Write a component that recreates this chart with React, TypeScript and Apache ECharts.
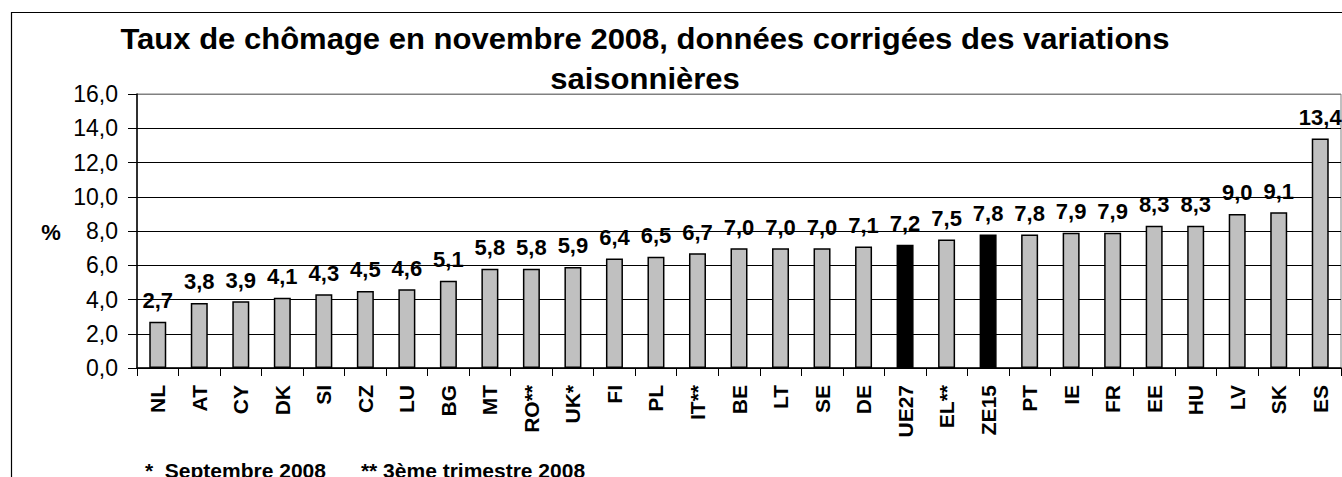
import React, { useEffect, useRef } from "react";
import * as echarts from "echarts";

const categories = ["NL","AT","CY","DK","SI","CZ","LU","BG","MT","RO**","UK*","FI","PL","IT**","BE","LT","SE","DE","UE27","EL**","ZE15","PT","IE","FR","EE","HU","LV","SK","ES"];
const values = [2.7,3.8,3.9,4.1,4.3,4.5,4.6,5.1,5.8,5.8,5.9,6.4,6.5,6.7,7.0,7.0,7.0,7.1,7.2,7.5,7.8,7.8,7.9,7.9,8.3,8.3,9.0,9.1,13.4];
const highlighted = ["UE27", "ZE15"];
const titleText = "Taux de chômage en novembre 2008, données corrigées des variations\nsaisonnières";
const footnote = "*  Septembre 2008      ** 3ème trimestre 2008";
const yUnit = "%";

const FONT = "'Liberation Sans', Arial, sans-serif";
const fmt = (v: number) => v.toFixed(1).replace(".", ",");

export default function App() {
  const ref = useRef<HTMLDivElement>(null);
  useEffect(() => {
    document.body.style.margin = "0";
    const chart = echarts.init(ref.current!, null, { renderer: "svg" });
    chart.setOption({
      animation: false,
      backgroundColor: "#fff",
      textStyle: { fontFamily: FONT },
      grid: {
        left: 137, right: 1, top: 94, bottom: 109,
        show: true, borderColor: "#808080", borderWidth: 1, backgroundColor: "transparent",
      },
      xAxis: {
        type: "category",
        data: categories,
        axisLine: { lineStyle: { color: "#000", width: 1.5 } },
        axisTick: { show: true, length: 8, lineStyle: { color: "#000" } },
        axisLabel: {
          rotate: 90, interval: 0, margin: 17,
          fontFamily: FONT, fontSize: 21, fontWeight: "bold", color: "#000",
        },
      },
      yAxis: {
        type: "value", min: 0, max: 16, interval: 2,
        axisLine: { show: true, lineStyle: { color: "#000", width: 1.5 } },
        axisTick: { show: true, length: 9, lineStyle: { color: "#000" } },
        axisLabel: {
          formatter: (v: number) => fmt(v), margin: 19,
          fontFamily: FONT, fontSize: 23, color: "#000",
        },
        splitLine: {
          show: true,
          lineStyle: { color: ["#000","#000","#000","#000","#000","#000","#000","#000","#808080"], width: 1 },
        },
      },
      series: [{
        type: "bar",
        barWidth: 17,
        data: values.map((v, i) => ({
          value: v,
          itemStyle: { color: highlighted.includes(categories[i]) ? "#000" : "#C0C0C0" },
        })),
        itemStyle: { borderColor: "#000", borderWidth: 1.5 },
        label: {
          show: true, position: "top", distance: 10,
          formatter: (p: any) => fmt(p.value),
          fontFamily: FONT, fontSize: 22, fontWeight: "bold", color: "#000",
        },
      }],
      graphic: [
        { type: "rect", shape: { x: 11.5, y: 12.5, width: 1500, height: 800 },
          style: { fill: "none", stroke: "#000", lineWidth: 1.2 }, silent: true, z: -1 },
        { type: "text", x: 645, y: 19, scaleX: 1.07,
          style: { text: titleText, fontFamily: FONT, fontSize: 29, fontWeight: "bold",
            fill: "#000", align: "center", verticalAlign: "top", lineHeight: 40 } },
        { type: "text", x: 51, y: 232,
          style: { text: yUnit, fontFamily: FONT, fontSize: 22, fontWeight: "bold",
            fill: "#000", align: "center", verticalAlign: "middle" } },
        { type: "text", x: 145, y: 460,
          style: { text: footnote, fontFamily: FONT, fontSize: 21, fontWeight: "bold",
            fill: "#000", align: "left", verticalAlign: "top" } },
      ],
    });
    return () => chart.dispose();
  }, []);
  return <div ref={ref} style={{ position: "absolute", left: 0, top: 0, width: 1342, height: 477 }} />;
}
